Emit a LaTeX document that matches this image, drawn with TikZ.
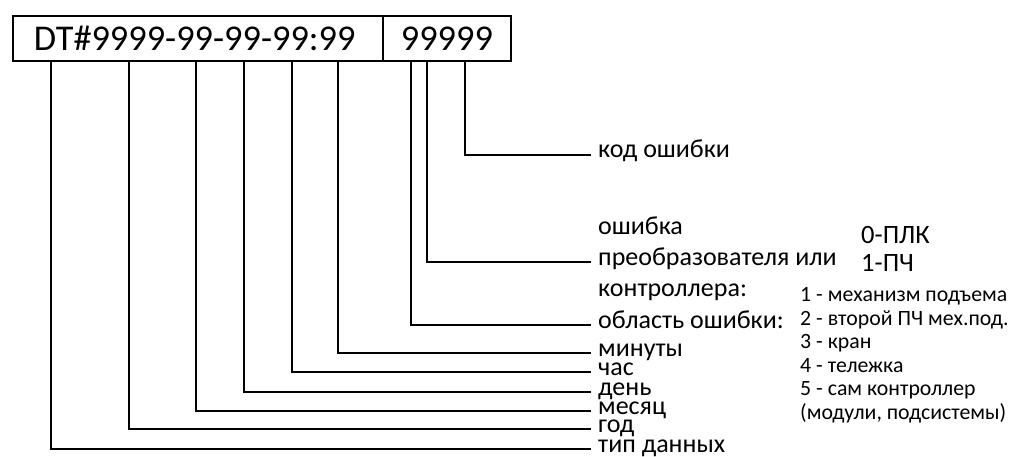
\documentclass[tikz,border=0pt]{standalone}
\usepackage{fontspec}
\setmainfont{Carlito}

\begin{document}
\begin{tikzpicture}[x=1pt,y=-1pt]
\useasboundingbox (0,0) rectangle (1011,457);
\tikzset{
  field/.style={draw, line width=1.8pt, minimum height=45pt, inner ysep=0pt,
    anchor=north west, font=\fontsize{36.3}{36}\selectfont},
  wire/.style={draw, line width=1.7pt},
  lbl/.style={anchor=west, inner xsep=7pt, inner ysep=0pt,
    text height=6pt, text depth=-6pt, font=\fontsize{26}{26}\selectfont},
  note/.style={anchor=base west, inner sep=0pt, font=\fontsize{26}{26}\selectfont},
  kind/.style={anchor=base west, inner sep=0pt, font=\fontsize{26.5}{26}\selectfont},
  item/.style={anchor=base west, inner sep=0pt, font=\fontsize{21.8}{22}\selectfont},
}

% the record: date-time stamp and error code
\node[field, inner xsep=21pt, text width=328pt, align=left] (stamp) at (12,15)
  {DT\#9999-99-99-99:99};
\node[field, inner xsep=0pt, minimum width=128pt] (code) at (382,15) {99999};

% tap points on the lower edge of the record
\coordinate (tType)  at (51,60);
\coordinate (tYear)  at (129,60);
\coordinate (tMonth) at (196,60);
\coordinate (tDay)   at (244,60);
\coordinate (tHour)  at (292,60);
\coordinate (tMin)   at (338,60);
\coordinate (tArea)  at (411,60);
\coordinate (tDev)   at (427,60);
\coordinate (tErr)   at (465,60);

% labels at the ends of the wires
\node[lbl] (lErr)   at (591,155) {код ошибки};
\node[lbl] (lDev)   at (591,262) {преобразователя или};
\node[lbl] (lArea)  at (591,325) {область ошибки:};
\node[lbl] (lMin)   at (591,353) {минуты};
\node[lbl] (lHour)  at (591,372) {час};
\node[lbl] (lDay)   at (591,392) {день};
\node[lbl] (lMonth) at (591,411) {месяц};
\node[lbl] (lYear)  at (591,429) {год};
\node[lbl] (lType)  at (591,449) {тип данных};

\node[note] (devTop) at (598,234) {ошибка};
\node[note] (devBot) at (598,296) {контроллера:};

% wires
\foreach \t/\l in {tErr/lErr, tDev/lDev, tArea/lArea, tMin/lMin, tHour/lHour,
                   tDay/lDay, tMonth/lMonth, tYear/lYear, tType/lType}
  \draw[wire] (\t) |- (\l.west);

% device kinds
\node[kind] (kPLC) at (861,243) {0-ПЛК};
\node[kind] (kVFD) at (861,271) {1-ПЧ};

% area codes
\node[item] (a1) at (800,301) {1 - механизм подъема};
\node[item] (a2) at (800,325) {2 - второй ПЧ мех.под.};
\node[item] (a3) at (800,348.5) {3 - кран};
\node[item] (a4) at (800,372) {4 - тележка};
\node[item] (a5) at (800,395.5) {5 - сам контроллер};
\node[item] (a6) at (800,419) {(модули, подсистемы)};
\end{tikzpicture}
\end{document}
